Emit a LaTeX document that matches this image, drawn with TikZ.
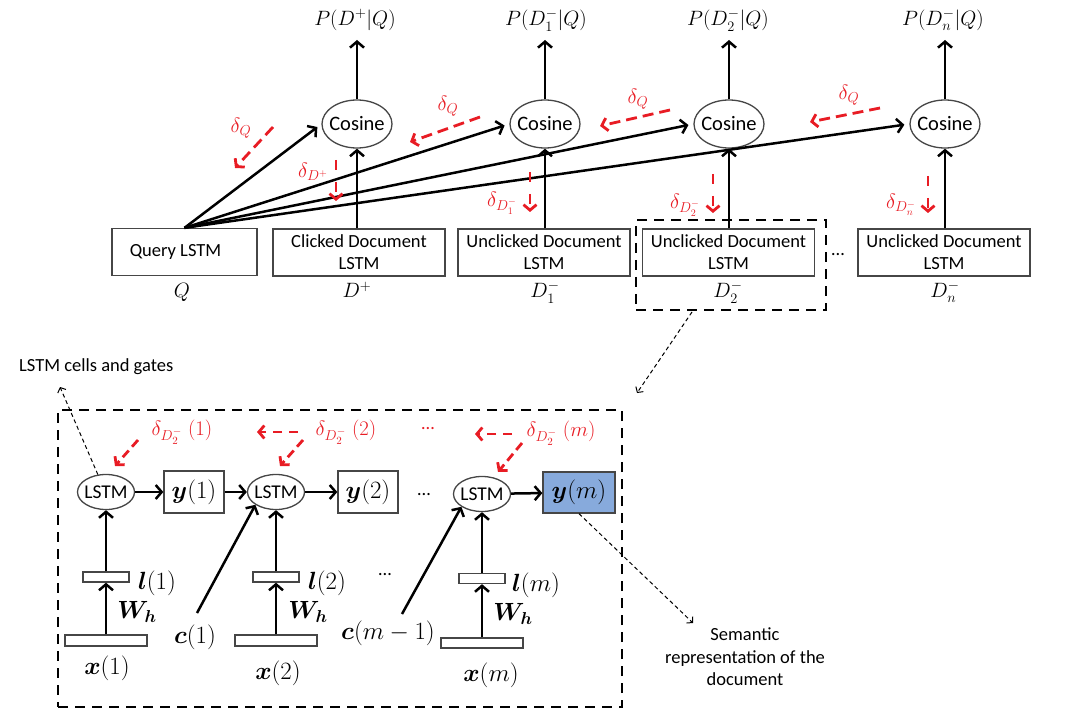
\documentclass[tikz,border=0pt]{standalone}
\usepackage{amsmath,bm}
\usepackage{fontspec}
\setmainfont{Carlito}
\usetikzlibrary{arrows.meta,shapes.geometric}
\definecolor{redd}{RGB}{232,28,36}
\definecolor{fillblue}{RGB}{135,170,220}
\definecolor{edge}{RGB}{70,70,70}
\begin{document}
\begin{tikzpicture}[x=1pt,y=-1pt,
  lstmbox/.style={draw=edge, line width=1.3pt, minimum width=172pt, minimum height=47pt, inner sep=0pt, align=center, font=\fontsize{18.5}{22}\selectfont},
  cos/.style={ellipse, draw=edge, line width=1.3pt, minimum width=70pt, minimum height=48pt, inner sep=0pt, font=\fontsize{20.5}{24}\selectfont},
  lstmell/.style={ellipse, draw=edge, line width=1.3pt, minimum width=57pt, minimum height=35pt, inner sep=0pt, font=\fontsize{19.5}{24}\selectfont},
  ybox/.style={draw=edge, line width=1.3pt, minimum width=60pt, minimum height=42pt, inner sep=0pt, font=\fontsize{25}{30}\selectfont},
  thinbox/.style={draw=edge, line width=1.3pt, inner sep=0pt},
  mlab/.style={inner sep=0pt, font=\fontsize{20.5}{24}\selectfont},
  rlab/.style={inner sep=0pt, text=redd, font=\fontsize{20.5}{24}\selectfont},
  rlabb/.style={inner sep=0pt, text=redd, font=\fontsize{22.5}{26}\selectfont},
  blab/.style={inner sep=0pt, font=\fontsize{25}{30}\selectfont},
  txt/.style={inner sep=0pt, align=center, font=\fontsize{18.5}{22.5}\selectfont},
  arr/.style={line width=2.5pt, -{Straight Barb[length=6pt,width=14pt]}},
  rarr/.style={draw=redd, line width=2.8pt, dash pattern=on 11pt off 6pt, -{Straight Barb[length=5.5pt,width=13pt]}},
  thinarr/.style={line width=1pt, dash pattern=on 4pt off 3pt, -{Straight Barb[length=4pt,width=9pt]}},
  bigdash/.style={draw, line width=2.5pt, dash pattern=on 10pt off 7pt, inner sep=0pt},
]
\useasboundingbox (0,0) rectangle (1080,722);

% ---------- top: boxes ----------
\node[lstmbox, minimum width=145pt] (q) at (184.5,252) {Query LSTM\hspace*{18pt}};
\node[lstmbox] (dp) at (359,252.5) {Clicked Document\\LSTM};
\node[lstmbox] (d1) at (544,252.5) {Unclicked Document\\LSTM};
\node[lstmbox] (d2) at (728.5,252.5) {Unclicked Document\\LSTM};
\node[lstmbox] (dn) at (944,252.5) {Unclicked Document\\LSTM};
\node[bigdash, minimum width=190pt, minimum height=90pt] (sel) at (731,265) {};
\node[txt] (dots1) at (838,255) {…};

% labels under boxes
\node[mlab] (lq) at (182,292) {$Q$};
\node[mlab] (ldp) at (357,290) {$D^{+}$};
\node[mlab] (ld1) at (545,292) {$D_1^{-}$};
\node[mlab] (ld2) at (728,292) {$D_2^{-}$};
\node[mlab] (ldn) at (945,292) {$D_n^{-}$};

% cosines
\node[cos] (c1) at (357,124) {\makebox[0pt]{Cosine}};
\node[cos] (c2) at (545,124) {\makebox[0pt]{Cosine}};
\node[cos] (c3) at (729,124) {\makebox[0pt]{Cosine}};
\node[cos] (c4) at (945,124) {\makebox[0pt]{Cosine}};

% probabilities
\node[mlab] (p1) at (355,20) {$P(D^{+}|Q)$};
\node[mlab] (p2) at (546,20) {$P(D_1^{-}|Q)$};
\node[mlab] (p3) at (728,20) {$P(D_2^{-}|Q)$};
\node[mlab] (p4) at (943,20) {$P(D_n^{-}|Q)$};

% black arrows top
\draw[arr] (c1.north) -- (c1.north |- 0,40);
\draw[arr] (c2.north) -- (c2.north |- 0,40);
\draw[arr] (c3.north) -- (c3.north |- 0,40);
\draw[arr] (c4.north) -- (c4.north |- 0,40);
\draw[arr] (c1 |- dp.north) -- (c1.south);
\draw[arr] (c2 |- d1.north) -- (c2.south);
\draw[arr] (c3 |- d2.north) -- (c3.south);
\draw[arr] (c4 |- dn.north) -- (c4.south);
\draw[arr, shorten >=5pt] (q.north) -- (c1.west);
\draw[arr, shorten >=5pt] (q.north) -- (c2.west);
\draw[arr, shorten >=5pt] (q.north) -- (c3.west);
\draw[arr, shorten >=5pt] (q.north) -- (c4.west);

% red gradients top
\draw[rarr] (273,127) -- (235,168);
\node[rlab] (gq1) at (241,128) {$\delta_Q$};
\draw[rarr, dash pattern=on 10pt off 12pt] (336,160) -- (336,201);
\node[rlab] (gdp) at (313,172) {$\delta_{D^+}$};
\draw[rarr] (480,117) -- (410,142);
\node[rlab] (gq2) at (448,106) {$\delta_Q$};
\draw[rarr, dash pattern=on 10pt off 12pt] (530,172) -- (530,212);
\node[rlab] (gd1) at (502,203) {$\delta_{D_1^-}$};
\draw[rarr] (670,110) -- (600,126);
\node[rlab] (gq3) at (638,99) {$\delta_Q$};
\draw[rarr, dash pattern=on 10pt off 12pt] (713,174) -- (713,213);
\node[rlab] (gd2) at (685,205) {$\delta_{D_2^-}$};
\draw[rarr] (880,108) -- (810,122);
\node[rlab] (gq4) at (849,95) {$\delta_Q$};
\draw[rarr, dash pattern=on 10pt off 12pt] (928,176) -- (928,213);
\node[rlab] (gdn) at (901,205) {$\delta_{D_n^-}$};

% link to detail
\coordinate (selout) at (692,312);
\coordinate (detin) at (637,393);
\draw[thinarr] (selout) -- (detin);

% ---------- bottom detail ----------
\node[bigdash, minimum width=564pt, minimum height=297pt] (detail) at (340,558.5) {};
\node[txt, anchor=west] (cells) at (19,367) {LSTM cells and gates};
\node[txt] (sem) at (745,657) {Semantic\\representation of the\\document};

\node[lstmell] (L1) at (106,492) {\makebox[0pt]{LSTM}};
\node[lstmell] (L2) at (276,492) {\makebox[0pt]{LSTM}};
\node[lstmell] (L3) at (482,494) {\makebox[0pt]{LSTM}};
\node[ybox] (y1) at (194,492) {$\bm{y}(1)$};
\node[ybox] (y2) at (368,492) {$\bm{y}(2)$};
\node[ybox, fill=fillblue, minimum width=72pt, minimum height=41pt] (ym) at (579,492.5) {$\bm{y}(m)$};

\node[thinbox, minimum width=46pt, minimum height=10pt] (l1) at (106,577) {};
\node[thinbox, minimum width=46pt, minimum height=10pt] (l2) at (276,577) {};
\node[thinbox, minimum width=46pt, minimum height=10pt] (lm) at (482,578.5) {};
\node[thinbox, minimum width=82pt, minimum height=11pt] (x1) at (106,640.5) {};
\node[thinbox, minimum width=82pt, minimum height=11pt] (x2) at (276,640.5) {};
\node[thinbox, minimum width=82pt, minimum height=10pt] (xm) at (482,643) {};

\node[blab] (tl1) at (157,583) {$\bm{l}(1)$};
\node[blab] (tl2) at (327,583) {$\bm{l}(2)$};
\node[blab] (tlm) at (536,585) {$\bm{l}(m)$};
\node[blab] (w1) at (137,612) {$\bm{W}_{\bm{h}}$};
\node[blab] (w2) at (308,612) {$\bm{W}_{\bm{h}}$};
\node[blab] (wm) at (513,614) {$\bm{W}_{\bm{h}}$};
\node[blab] (tx1) at (107,668) {$\bm{x}(1)$};
\node[blab] (tx2) at (278,673) {$\bm{x}(2)$};
\node[blab] (txm) at (491,675) {$\bm{x}(m)$};
\node[blab] (tc1) at (195,637) {$\bm{c}(1)$};
\node[blab] (tcm) at (388,633) {$\bm{c}(m-1)$};

\node[txt] (dots2) at (424,495) {…};
\node[txt] (dots3) at (385,575) {…};
\node[txt, text=redd] (dots4) at (428,429) {…};

% black arrows bottom
\draw[arr] (L1) -- (y1);
\draw[arr] (y1) -- (L2);
\draw[arr] (L2) -- (y2);
\draw[arr] (L3) -- (ym);
\draw[arr] (x1.north) -- (l1.south);
\draw[arr] (x2.north) -- (l2.south);
\draw[arr] (xm.north) -- (lm.south);
\draw[arr] (l1.north) -- (L1.south);
\draw[arr] (l2.north) -- (L2.south);
\draw[arr] (lm.north) -- (L3.south);
\coordinate (c1s) at (197,613);
\coordinate (cms) at (402,614);
\draw[arr] (c1s) -- (L2.south west);
\draw[arr] (cms) -- (L3.south west);

% red bottom
\draw[rarr, dash pattern=on 9pt off 5pt] (138,440) -- (115,466);
\node[rlabb] (g1) at (182,432) {$\delta_{D_2^-}\;(1)$};
\draw[rarr, dash pattern=on 9pt off 5pt] (303,440) -- (280,466);
\draw[rarr, dash pattern=on 9pt off 7pt] (298,432) -- (257,432);
\node[rlabb] (g2) at (346,432) {$\delta_{D_2^-}\;(2)$};
\draw[rarr, dash pattern=on 9pt off 7pt] (512,434) -- (475,434);
\draw[rarr, dash pattern=on 9pt off 5pt] (522,443) -- (498,472);
\node[rlabb] (gm) at (561,433) {$\delta_{D_2^-}\;(m)$};

% thin dashed annotation arrows
\coordinate (cellsend) at (60,387);
\draw[thinarr] (L1.115) -- (cellsend);
\coordinate (semend) at (693,623);
\draw[thinarr] (ym.south) -- (semend);
\end{tikzpicture}
\end{document}
